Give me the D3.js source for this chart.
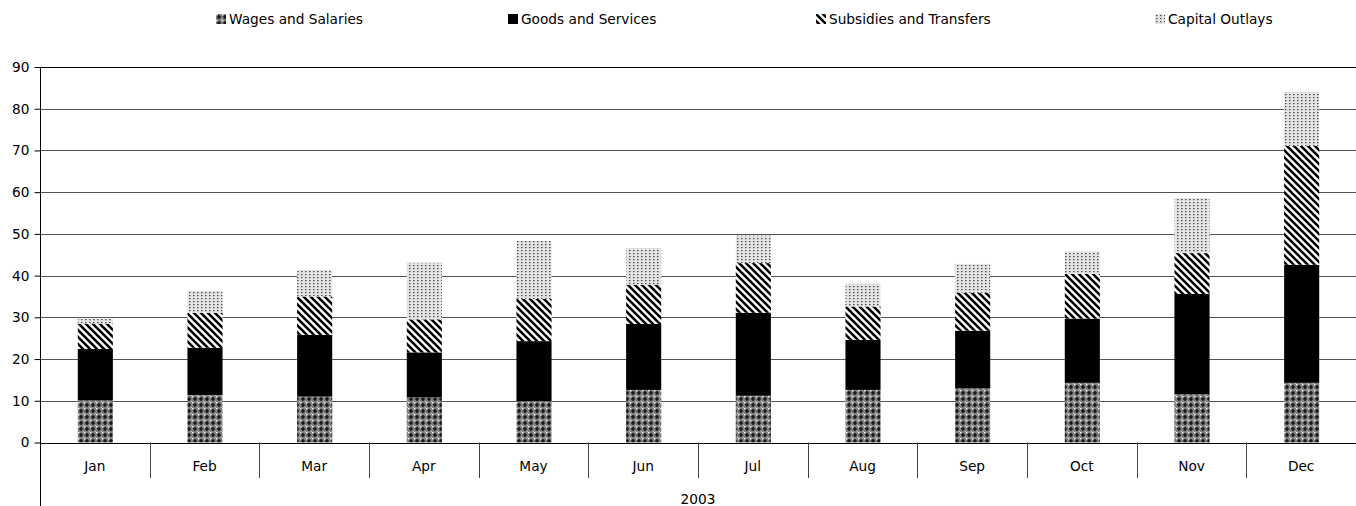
<!DOCTYPE html>
<html>
<head>
<meta charset="utf-8">
<script src="https://cdn.jsdelivr.net/npm/d3@7"></script>
<style>
  html, body { margin: 0; padding: 0; background: #fff; }
  svg { display: block; font-family: "DejaVu Sans", Verdana, sans-serif; }
</style>
</head>
<body>
<svg id="chart" width="1356" height="506"></svg>
<script>
const months = ["Jan","Feb","Mar","Apr","May","Jun","Jul","Aug","Sep","Oct","Nov","Dec"];
const seriesNames = ["Wages and Salaries","Goods and Services","Subsidies and Transfers","Capital Outlays"];
const wages     = [10.1, 11.4, 11.0, 10.8,  9.9, 12.6, 11.2, 12.6, 13.0, 14.3, 11.6, 14.3];
const goods     = [12.3, 11.3, 14.8, 10.8, 14.4, 15.8, 19.9, 12.0, 13.8, 15.4, 24.0, 28.3];
const subsidies = [ 6.1,  8.4,  9.2,  7.9, 10.1,  9.4, 11.9,  8.0,  9.1, 10.7,  9.8, 28.5];
const capital   = [ 1.2,  5.2,  6.4, 13.6, 13.9,  8.8,  6.6,  5.4,  6.9,  5.4, 13.2, 12.9];
const yTicks = [0,10,20,30,40,50,60,70,80,90];
const groupLabel = "2003";

const FS = 13.7;
const svg = d3.select("#chart");
const defs = svg.append("defs");

// Wages pattern: gray lattice with black plus signs and white dots
const pW = defs.append("pattern").attr("id","pWages").attr("patternUnits","userSpaceOnUse")
  .attr("width",6).attr("height",6);
pW.append("rect").attr("width",6).attr("height",6).attr("fill","#808080");
pW.append("path").attr("d","M3,1 V5 M1,3 H5").attr("stroke","#000").attr("stroke-width",1.2);
pW.append("rect").attr("x",0).attr("y",0).attr("width",1.3).attr("height",1.3).attr("fill","#fff");
pW.append("rect").attr("x",5).attr("y",5).attr("width",1).attr("height",1).attr("fill","#ccc");

// Subsidies pattern: diagonal stripes "\"
const pS = defs.append("pattern").attr("id","pSubs").attr("patternUnits","userSpaceOnUse")
  .attr("width",7).attr("height",7);
pS.append("rect").attr("width",7).attr("height",7).attr("fill","#fff");
pS.append("path").attr("d","M-1,-1 L8,8 M-4.5,2.5 L1.5,8.5 M2.5,-4.5 L8.5,1.5")
  .attr("stroke","#000").attr("stroke-width",2.6);

// Capital pattern: light dotted
const pC = defs.append("pattern").attr("id","pCap").attr("patternUnits","userSpaceOnUse")
  .attr("width",4).attr("height",3);
pC.append("rect").attr("width",4).attr("height",3).attr("fill","#e4e4e4");
pC.append("rect").attr("x",1).attr("y",1).attr("width",1.5).attr("height",1.2).attr("fill","#4a4a4a");

const fills = ["url(#pWages)","#000","url(#pSubs)","url(#pCap)"];

const plotLeft = 40, plotRight = 1356, plotTop = 67, plotBottom = 442.5;

const x = d3.scaleBand().domain(months).range([plotLeft, plotRight]).padding(0);
const y = d3.scaleLinear().domain([0, 90]).range([plotBottom, plotTop]);

// gridlines
svg.append("g").selectAll("line").data(yTicks.filter(d => d > 0)).join("line")
  .attr("x1", plotLeft).attr("x2", plotRight)
  .attr("y1", d => Math.round(y(d)) + 0.5).attr("y2", d => Math.round(y(d)) + 0.5)
  .attr("stroke", d => d === 90 ? "#000" : "#555").attr("stroke-width", 1);

// stacked bars
const rows = months.map((m, i) => ({month: m, s0: wages[i], s1: goods[i], s2: subsidies[i], s3: capital[i]}));
const stack = d3.stack().keys(["s0","s1","s2","s3"]);
const layers = stack(rows);
const barW = x.bandwidth() * 0.32;

svg.append("g").selectAll("g").data(layers).join("g")
  .attr("fill", (d, i) => fills[i])
  .selectAll("rect").data(d => d).join("rect")
  .attr("x", d => x(d.data.month) + (x.bandwidth() - barW) / 2 + 0.5)
  .attr("width", barW)
  .attr("y", d => y(d[1]))
  .attr("height", d => y(d[0]) - y(d[1]));

// y axis
const yAxis = d3.axisLeft(y).tickValues(yTicks).tickSize(6).tickPadding(5);
const gy = svg.append("g").attr("transform", `translate(${plotLeft + 0.5},0)`).call(yAxis);
gy.select(".domain").remove();
gy.selectAll("line").attr("stroke", "#000");
gy.selectAll("text").attr("font-size", FS).attr("fill", "#000").attr("font-family", "DejaVu Sans, Verdana, sans-serif");
svg.append("line").attr("x1", plotLeft + 0.5).attr("x2", plotLeft + 0.5).attr("y1", plotTop).attr("y2", 506)
  .attr("stroke", "#000");

// x axis baseline
svg.append("line").attr("x1", plotLeft).attr("x2", plotRight).attr("y1", Math.round(plotBottom) + 0.5).attr("y2", Math.round(plotBottom) + 0.5)
  .attr("stroke", "#000");

// category separators
svg.append("g").selectAll("line").data(months.slice(1)).join("line")
  .attr("x1", d => Math.round(x(d)) + 0.5).attr("x2", d => Math.round(x(d)) + 0.5)
  .attr("y1", plotBottom).attr("y2", 478).attr("stroke", "#444");

// category labels
svg.append("g").selectAll("text").data(months).join("text")
  .attr("x", d => x(d) + x.bandwidth() / 2).attr("y", 471)
  .attr("text-anchor", "middle").attr("font-size", FS).attr("fill", "#000")
  .text(d => d);

svg.append("text").attr("x", (plotLeft + plotRight) / 2).attr("y", 504)
  .attr("text-anchor", "middle").attr("font-size", FS).attr("fill", "#000").text(groupLabel);

// legend
const legendX = [216, 508, 816, 1155];
const lg = svg.append("g").selectAll("g").data(seriesNames).join("g")
  .attr("transform", (d, i) => `translate(${legendX[i]},14)`);
lg.append("rect").attr("width", 10).attr("height", 10).attr("fill", (d, i) => fills[i]);
lg.append("text").attr("x", 13).attr("y", 10).attr("font-size", FS).attr("fill", "#000").text(d => d);
</script>
</body>
</html>
